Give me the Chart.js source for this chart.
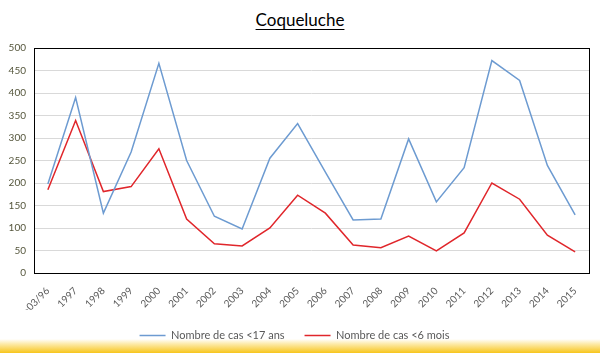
<!DOCTYPE html>
<html>
<head>
<meta charset="utf-8">
<script src="https://cdn.jsdelivr.net/npm/chart.js@4"></script>
<style>
  html, body { margin: 0; padding: 0; }
  body {
    width: 600px; height: 353px; overflow: hidden; position: relative;
    background: linear-gradient(to bottom, #fff 0, #fff 339px, #fdeaa8 344px, #f7c51c 353px);
  }
  #title {
    position: absolute; top: 9px; left: 0; width: 600px; text-align: center;
    font-family: Lato, sans-serif; font-weight: 400; font-size: 17px; color: #000;
    text-decoration: underline; text-underline-offset: 3px;
  }
  #wrap { position: absolute; left: 0; top: 0; width: 600px; height: 353px; }
</style>
</head>
<body>
<div id="title">Coqueluche</div>
<div id="wrap"><canvas id="c"></canvas></div>
<script>
const years = [">03/96", "1997", "1998", "1999", "2000", "2001", "2002", "2003", "2004", "2005",
  "2006", "2007", "2008", "2009", "2010", "2011", "2012", "2013", "2014", "2015"];
const casUnder17 = [198, 390, 133, 269, 466, 250, 126, 98, 255, 332,
  224, 118, 120, 298, 158, 234, 472, 428, 239, 129];
const casUnder6m = [185, 339, 181, 192, 276, 120, 65, 60, 100, 173,
  133, 62, 56, 82, 49, 89, 200, 164, 84, 47];

const plotBorder = {
  id: "plotBorder",
  beforeDatasetsDraw(chart) {
    const a = chart.chartArea;
    const ctx = chart.ctx;
    ctx.save();
    ctx.strokeStyle = "#000";
    ctx.lineWidth = 1;
    ctx.strokeRect(Math.round(a.left) + 0.5, Math.round(a.top) + 0.5,
      Math.round(a.right - a.left), Math.round(a.bottom - a.top));
    ctx.restore();
  }
};

new Chart(document.getElementById("c"), {
  type: "line",
  data: {
    labels: years,
    datasets: [
      {
        label: "Nombre de cas <17 ans",
        data: casUnder17,
        borderColor: "#6d9bd1",
        backgroundColor: "#6d9bd1",
        borderWidth: 1.5,
        pointRadius: 0,
        tension: 0,
      },
      {
        label: "Nombre de cas <6 mois",
        data: casUnder6m,
        borderColor: "#e0262b",
        backgroundColor: "#e0262b",
        borderWidth: 1.5,
        pointRadius: 0,
        tension: 0,
      },
    ],
  },
  options: {
    responsive: true,
    maintainAspectRatio: false,
    animation: false,
    layout: { padding: { top: 48, right: 11, left: 0, bottom: 2 } },
    plugins: {
      title: { display: false },
      tooltip: { enabled: false },
      legend: {
        position: "bottom",
        labels: {
          usePointStyle: true,
          pointStyle: "line",
          pointStyleWidth: 26,
          boxHeight: 1,
          color: "#595959",
          padding: 20,
          font: { family: "Lato", size: 11 },
        },
      },
    },
    scales: {
      x: {
        offset: true,
        grid: { display: false },
        border: { display: false },
        ticks: {
          color: "#595959",
          font: { family: "Lato", size: 10 },
          autoSkip: false,
          maxRotation: 45,
          minRotation: 45,
          padding: 4,
        },
        afterFit(scale) { scale.height = 37; },
      },
      y: {
        min: 0,
        max: 500,
        ticks: {
          stepSize: 50,
          color: "#55563c",
          font: { family: "Lato", size: 10 },
          padding: 8,
        },
        grid: { color: "#d9d9d9", drawTicks: false, lineWidth: 1 },
        border: { display: false },
        afterFit(scale) { scale.width = 34; },
      },
    },
  },
  plugins: [plotBorder],
});
</script>
</body>
</html>
